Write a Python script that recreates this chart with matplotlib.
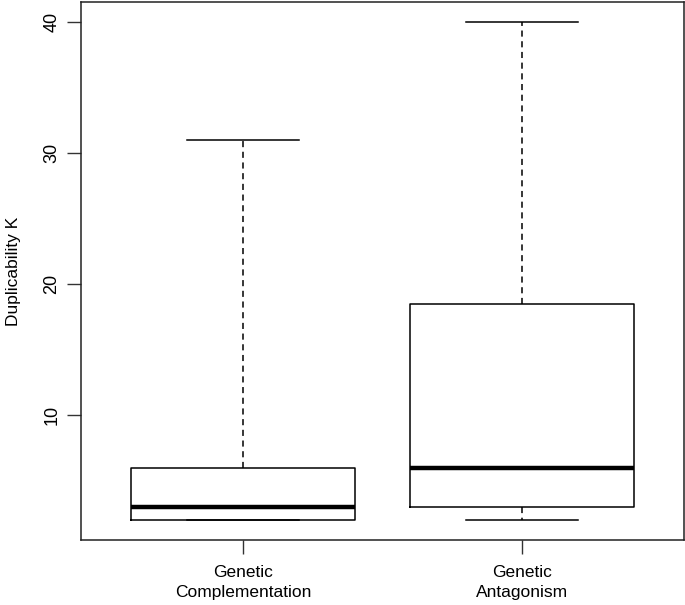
import matplotlib.pyplot as plt

plt.rcParams['font.family'] = ['Liberation Sans', 'DejaVu Sans']

labels = ["Genetic\nComplementation", "Genetic\nAntagonism"]
whislo = [2, 2]
q1 = [2, 3]
med = [3, 6]
q3 = [6, 18.5]
whishi = [31, 40]

stats = []
for i in range(len(labels)):
    stats.append(dict(whislo=whislo[i], q1=q1[i], med=med[i], q3=q3[i],
                      whishi=whishi[i], fliers=[], label=labels[i]))

fig = plt.figure(figsize=(6.85, 6.05), dpi=100)
ax = fig.add_axes([81 / 685, (605 - 540) / 605, (684 - 81) / 685, (540 - 2) / 605])

ax.bxp(stats, positions=[1, 2], widths=0.8, showfliers=False,
       boxprops=dict(color='black', linewidth=1.1),
       medianprops=dict(color='black', linewidth=3.2, solid_capstyle='butt'),
       whiskerprops=dict(color='black', linewidth=1.1, linestyle=(0, (4, 3))),
       capprops=dict(color='black', linewidth=1.1),
       capwidths=0.4)

ax.set_xlim(0.42, 2.58)
ax.set_ylim(0.48, 41.52)
ax.set_yticks([10, 20, 30, 40])
ax.set_yticklabels(['10', '20', '30', '40'], rotation=90, va='center', fontsize=13)
ax.set_xticks([1, 2])
ax.set_xticklabels(labels, fontsize=12.5, linespacing=1.4)
ax.tick_params(axis='both', direction='out', length=10, width=1, color='#333333')
ax.tick_params(axis='y', pad=5)
ax.tick_params(axis='x', pad=8)
ax.set_ylabel("Duplicability K", fontsize=12.5, labelpad=16)
for s in ax.spines.values():
    s.set_linewidth(1.1)
    s.set_color('#222222')

fig.savefig("out.png", dpi=100, facecolor='white')
